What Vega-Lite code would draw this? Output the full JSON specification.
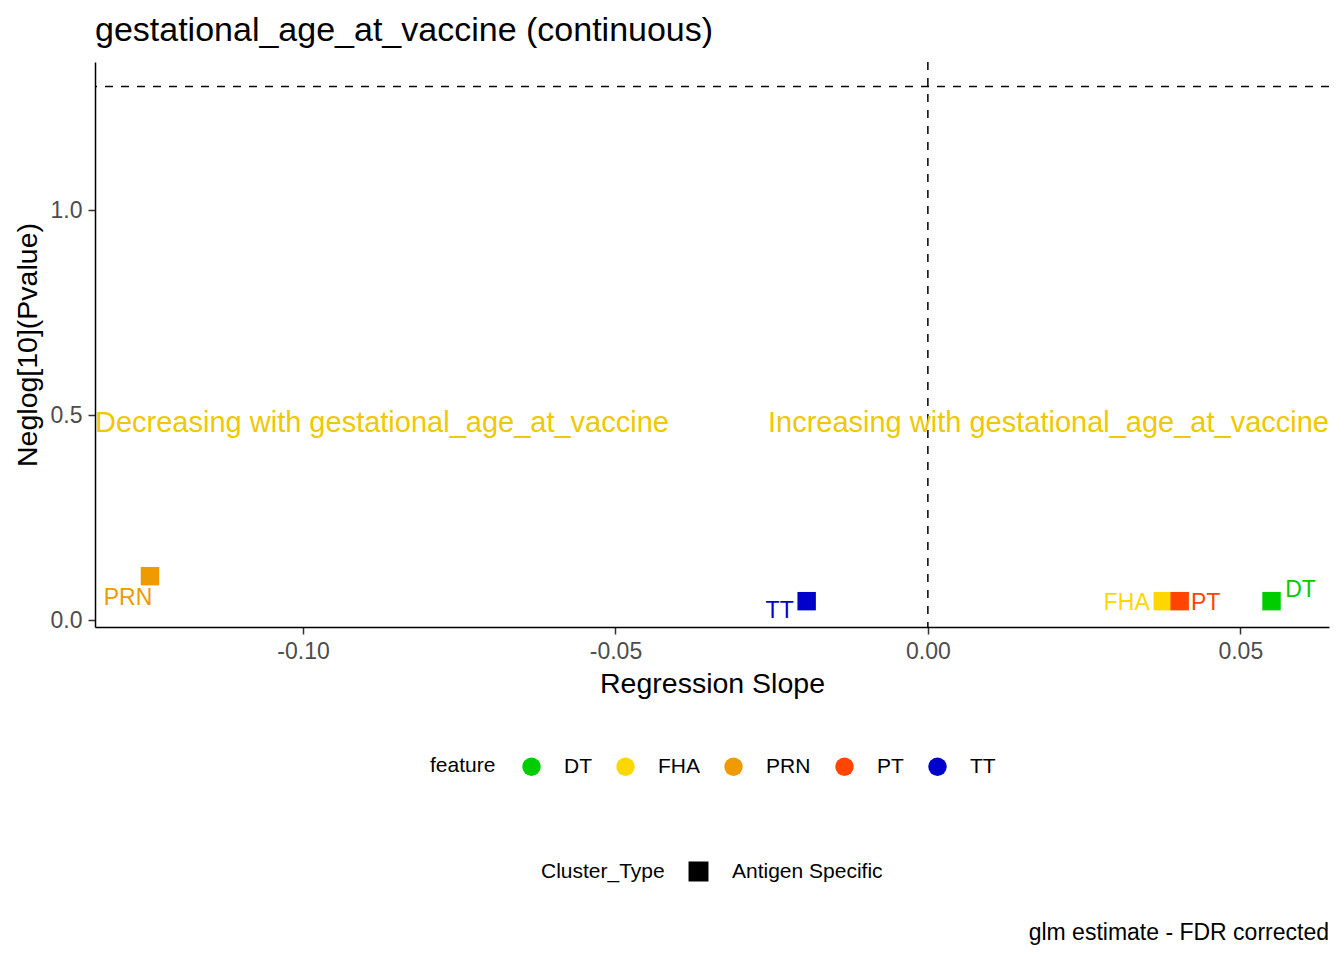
{
  "$schema": "https://vega.github.io/schema/vega-lite/v6.json",
  "width": 1234,
  "height": 565,
  "autosize": {"type": "none"},
  "padding": {"left": 95, "top": 62, "right": 15, "bottom": 333},
  "background": "white",
  "title": {
    "text": "gestational_age_at_vaccine (continuous)",
    "anchor": "start",
    "frame": "group",
    "baseline": "bottom",
    "offset": 14,
    "dy": 35,
    "fontSize": 34,
    "font": "Liberation Sans",
    "fontWeight": "normal",
    "color": "black"
  },
  "datasets": {
    "points": [
      {"feature": "DT", "Cluster_Type": "Antigen Specific", "slope": 0.0550, "neglog10p": 0.046},
      {"feature": "FHA", "Cluster_Type": "Antigen Specific", "slope": 0.0376, "neglog10p": 0.046},
      {"feature": "PRN", "Cluster_Type": "Antigen Specific", "slope": -0.1245, "neglog10p": 0.107},
      {"feature": "PT", "Cluster_Type": "Antigen Specific", "slope": 0.0403, "neglog10p": 0.046},
      {"feature": "TT", "Cluster_Type": "Antigen Specific", "slope": -0.0194, "neglog10p": 0.046}
    ]
  },
  "data": {"name": "points"},
  "layer": [
    {
      "data": {"values": [{}]},
      "mark": {"type": "rule", "strokeDash": [8, 8], "color": "black", "strokeWidth": 1.5},
      "encoding": {
        "y": {"datum": 1.30103, "type": "quantitative", "title": "Neglog[10](Pvalue)",
              "scale": {"domain": [-0.017, 1.361], "nice": false, "zero": false}}
      }
    },
    {
      "data": {"values": [{}]},
      "mark": {"type": "rule", "strokeDash": [8, 8], "color": "black", "strokeWidth": 1.5},
      "encoding": {
        "x": {"datum": 0, "type": "quantitative", "title": "Regression Slope",
              "scale": {"domain": [-0.1333, 0.0642], "nice": false, "zero": false}}
      }
    },
    {
      "mark": {"type": "point", "filled": true, "opacity": 1, "size": 340},
      "encoding": {
        "x": {
          "field": "slope", "type": "quantitative", "title": "Regression Slope",
          "scale": {"domain": [-0.1333, 0.0642], "nice": false, "zero": false},
          "axis": {"values": [-0.1, -0.05, 0, 0.05], "format": ".2f", "titlePadding": 6}
        },
        "y": {
          "field": "neglog10p", "type": "quantitative", "title": "Neglog[10](Pvalue)",
          "scale": {"domain": [-0.017, 1.361], "nice": false, "zero": false},
          "axis": {"values": [0, 0.5, 1], "format": ".1f", "titlePadding": 8}
        },
        "color": {
          "field": "feature", "type": "nominal",
          "scale": {"domain": ["DT", "FHA", "PRN", "PT", "TT"],
                    "range": ["#00CD00", "#FFD700", "#EE9A00", "#FF4500", "#0000CD"]},
          "legend": {
            "title": "feature", "orient": "none", "direction": "horizontal",
            "legendX": 335, "legendY": 694, "titleOrient": "left",
            "symbolType": "circle", "symbolSize": 340, "symbolStrokeWidth": 0,
            "labelOffset": 22, "columnPadding": 23, "titlePadding": 25
          }
        },
        "shape": {
          "field": "Cluster_Type", "type": "nominal",
          "scale": {"range": ["square"]},
          "legend": {
            "title": "Cluster_Type", "orient": "none", "direction": "horizontal",
            "legendX": 446, "legendY": 799, "titleOrient": "left",
            "symbolSize": 340, "symbolFillColor": "black", "symbolStrokeColor": "black",
            "labelOffset": 23, "titlePadding": 23
          }
        }
      }
    },
    {
      "transform": [{"filter": "datum.feature == 'PRN'"}],
      "mark": {"type": "text", "dx": -22, "dy": 22, "fontSize": 23, "font": "Liberation Sans"},
      "encoding": {
        "x": {"field": "slope", "type": "quantitative", "title": "Regression Slope"},
        "y": {"field": "neglog10p", "type": "quantitative", "title": "Neglog[10](Pvalue)"},
        "text": {"field": "feature"},
        "color": {"field": "feature", "type": "nominal"}
      }
    },
    {
      "transform": [{"filter": "datum.feature == 'TT'"}],
      "mark": {"type": "text", "dx": -27, "dy": 10, "fontSize": 23, "font": "Liberation Sans"},
      "encoding": {
        "x": {"field": "slope", "type": "quantitative", "title": "Regression Slope"},
        "y": {"field": "neglog10p", "type": "quantitative", "title": "Neglog[10](Pvalue)"},
        "text": {"field": "feature"},
        "color": {"field": "feature", "type": "nominal"}
      }
    },
    {
      "transform": [{"filter": "datum.feature == 'FHA'"}],
      "mark": {"type": "text", "dx": -36, "dy": 2, "fontSize": 23, "font": "Liberation Sans"},
      "encoding": {
        "x": {"field": "slope", "type": "quantitative", "title": "Regression Slope"},
        "y": {"field": "neglog10p", "type": "quantitative", "title": "Neglog[10](Pvalue)"},
        "text": {"field": "feature"},
        "color": {"field": "feature", "type": "nominal"}
      }
    },
    {
      "transform": [{"filter": "datum.feature == 'PT'"}],
      "mark": {"type": "text", "dx": 26, "dy": 2, "fontSize": 23, "font": "Liberation Sans"},
      "encoding": {
        "x": {"field": "slope", "type": "quantitative", "title": "Regression Slope"},
        "y": {"field": "neglog10p", "type": "quantitative", "title": "Neglog[10](Pvalue)"},
        "text": {"field": "feature"},
        "color": {"field": "feature", "type": "nominal"}
      }
    },
    {
      "transform": [{"filter": "datum.feature == 'DT'"}],
      "mark": {"type": "text", "dx": 29, "dy": -11, "fontSize": 23, "font": "Liberation Sans"},
      "encoding": {
        "x": {"field": "slope", "type": "quantitative", "title": "Regression Slope"},
        "y": {"field": "neglog10p", "type": "quantitative", "title": "Neglog[10](Pvalue)"},
        "text": {"field": "feature"},
        "color": {"field": "feature", "type": "nominal"}
      }
    },
    {
      "data": {"values": [{"label": "Decreasing with gestational_age_at_vaccine"}]},
      "mark": {"type": "text", "align": "left", "baseline": "middle", "fontSize": 29,
               "font": "Liberation Sans", "color": "#EFC800"},
      "encoding": {
        "x": {"datum": -0.1333, "type": "quantitative", "title": "Regression Slope"},
        "y": {"datum": 0.48, "type": "quantitative", "title": "Neglog[10](Pvalue)"},
        "text": {"field": "label"}
      }
    },
    {
      "data": {"values": [{"label": "Increasing with gestational_age_at_vaccine"}]},
      "mark": {"type": "text", "align": "right", "baseline": "middle", "fontSize": 29,
               "font": "Liberation Sans", "color": "#EFC800"},
      "encoding": {
        "x": {"datum": 0.0642, "type": "quantitative", "title": "Regression Slope"},
        "y": {"datum": 0.48, "type": "quantitative", "title": "Neglog[10](Pvalue)"},
        "text": {"field": "label"}
      }
    },
    {
      "data": {"values": [{"label": "glm estimate - FDR corrected"}]},
      "mark": {"type": "text", "align": "right", "baseline": "middle", "fontSize": 23,
               "font": "Liberation Sans", "color": "black"},
      "encoding": {
        "x": {"datum": 0.0642, "type": "quantitative", "title": "Regression Slope"},
        "y": {"datum": -0.763, "type": "quantitative", "title": "Neglog[10](Pvalue)"},
        "text": {"field": "label"}
      }
    }
  ],
  "config": {
    "font": "Liberation Sans",
    "view": {"stroke": null},
    "locale": {
      "number": {"decimal": ".", "thousands": ",", "grouping": [3], "currency": ["$", ""], "minus": "-"}
    },
    "axis": {
      "grid": false,
      "domainColor": "black",
      "domainWidth": 1.5,
      "tickColor": "#333333",
      "tickWidth": 1.5,
      "tickSize": 7,
      "labelFont": "Liberation Sans",
      "labelFontSize": 23,
      "labelColor": "#4D4D4D",
      "labelPadding": 6,
      "titleFont": "Liberation Sans",
      "titleFontSize": 28.5,
      "titleFontWeight": "normal",
      "titleColor": "black"
    },
    "legend": {
      "padding": 0,
      "labelFont": "Liberation Sans",
      "labelFontSize": 21,
      "labelColor": "black",
      "titleFont": "Liberation Sans",
      "titleFontSize": 21,
      "titleFontWeight": "normal",
      "titleColor": "black",
      "titleBaseline": "middle"
    }
  }
}
